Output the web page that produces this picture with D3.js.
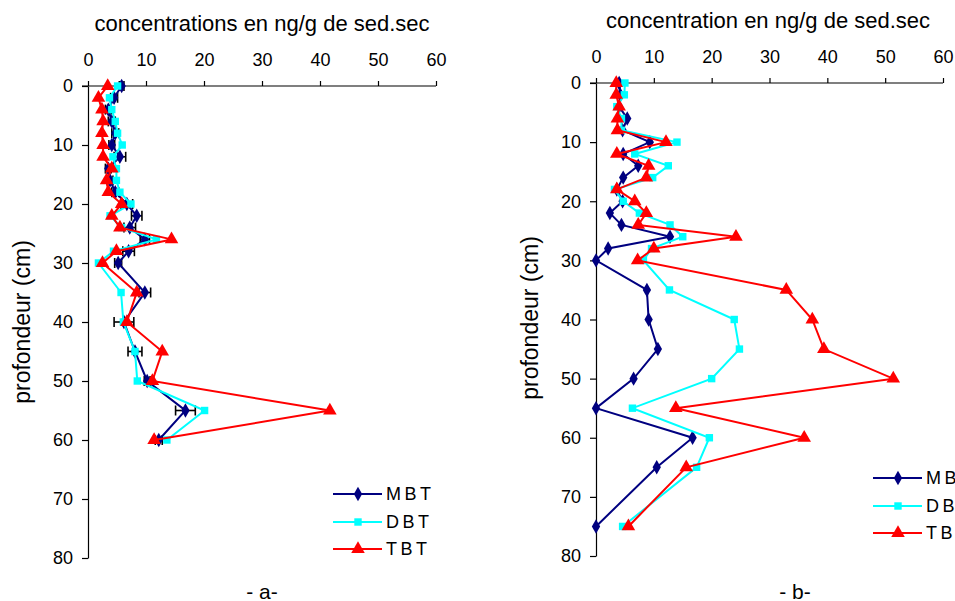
<!DOCTYPE html>
<html><head><meta charset="utf-8">
<script src="https://cdn.jsdelivr.net/npm/d3@7"></script>
<style>
body{margin:0;background:#fff;overflow:hidden}
text{font-family:"Liberation Sans",Arial,sans-serif;fill:#000}
</style></head><body>
<svg id="chart" width="955" height="601"></svg>
<script>
// ---- data ----
const seriesNames = ["MBT", "DBT", "TBT"];
const xTicks = [0, 10, 20, 30, 40, 50, 60];
const yTicks = [0, 10, 20, 30, 40, 50, 60, 70, 80];

const depthsA = [0,2,4,6,8,10,12,14,16,18,20,22,24,26,28,30,35,40,45,50,55,60];
const mbtA = [5.8,4.5,3.5,4.1,4.7,4.1,5.5,3.5,3.8,4.7,6.7,8.4,7.2,9.8,7.0,5.2,9.8,6.2,8.1,10.2,16.8,12.2];
const dbtA = [5.1,3.7,4.1,4.7,5.1,5.9,4.3,4.9,4.9,5.5,7.4,3.8,5.8,11.8,4.4,1.8,5.7,6.1,8.1,8.5,20.1,13.6];
const tbtA = [3.4,1.8,2.4,2.6,2.4,2.6,2.6,4.1,3.2,3.5,5.8,4.1,5.5,14.4,4.9,2.5,8.4,6.7,12.8,11.1,41.7,11.4];
const errA = [0.4,0.6,0.5,0.6,0.6,0.5,1.0,0.5,0.5,0.6,1.0,0.9,1.0,0.8,1.0,0.6,1.0,1.7,1.2,0.5,1.7,0.6];

const depthsB = [0,2,4,6,8,10,12,14,16,18,20,22,24,26,28,30,35,40,45,50,55,60,65,75];
const mbtB = [4.0,4.2,4.0,5.4,4.6,9.3,4.7,7.3,4.7,3.6,4.6,2.4,4.4,12.8,2.1,0,8.8,9.1,10.7,6.5,0,16.7,10.5,0];
const dbtB = [5.0,4.9,3.6,4.4,4.4,14.0,6.7,12.5,9.8,3.2,4.7,7.5,12.8,15.0,9.6,8.2,12.7,23.9,24.8,20.0,6.3,19.6,17.4,4.6];
const tbtB = [3.5,3.5,4.0,3.7,3.7,12.1,3.6,9.1,8.7,3.6,6.7,8.7,7.3,24.2,10.0,7.2,32.9,37.4,39.4,51.4,13.8,36.0,15.6,5.6];

const colors = {MBT:"#000080", DBT:"#00FFFF", TBT:"#FF0000"};
const symbols = {MBT:d3.symbolDiamond, DBT:d3.symbolSquare, TBT:d3.symbolTriangle};
const symSize = {MBT:60, DBT:55, TBT:80};

const svg = d3.select("#chart");

function panel(cfg){
  const g = svg.append("g");
  const x = d3.scaleLinear().domain([0,60]).range([cfg.x0, cfg.x1]);
  const y = d3.scaleLinear().domain([0,80]).range([cfg.y0, cfg.y1]);

  const ax = g.append("g").attr("transform",`translate(0,${cfg.y0})`)
    .call(d3.axisTop(x).tickValues(xTicks).tickSize(5).tickPadding(15).tickSizeOuter(0));
  const ay = g.append("g").attr("transform",`translate(${cfg.x0},0)`)
    .call(d3.axisLeft(y).tickValues(yTicks).tickSize(6).tickPadding(9).tickSizeOuter(0));
  [ax, ay].forEach(a=>{
    a.selectAll("text").style("font-size","18px").attr("font-family","Liberation Sans, Arial, sans-serif");
    a.selectAll("line,path").attr("stroke","#000").attr("stroke-width",1.2);
  });
  ax.select(".domain").attr("d",`M${cfg.x0-6},0H${cfg.x1}`);

  g.append("text").attr("x",cfg.titleX).attr("y",cfg.titleY).attr("text-anchor","middle")
    .style("font-size","22px").text(cfg.title);
  g.append("text").attr("transform",`translate(${cfg.ylabX},${cfg.ylabY}) rotate(-90)`)
    .attr("text-anchor","middle").attr("dominant-baseline","central")
    .style("font-size","23px").text("profondeur (cm)");
  g.append("text").attr("x",cfg.capX).attr("y",591).attr("text-anchor","middle")
    .attr("dominant-baseline","central").style("font-size","21px").text(cfg.caption);

  const line = d3.line().x(d=>x(d.v)).y(d=>y(d.d));
  cfg.series.forEach((vals,i)=>{
    const name = seriesNames[i];
    const pts = vals.map((v,j)=>({v, d:cfg.depths[j]}));
    if(name==="MBT" && cfg.err){
      const eg = g.append("g").attr("stroke","#000").attr("stroke-width",1.6);
      pts.forEach((p,j)=>{
        const e = cfg.err[j];
        const xl = x(p.v-e), xr = x(p.v+e), yy = y(p.d);
        eg.append("line").attr("x1",xl).attr("x2",xr).attr("y1",yy).attr("y2",yy);
        eg.append("line").attr("x1",xl).attr("x2",xl).attr("y1",yy-5).attr("y2",yy+5);
        eg.append("line").attr("x1",xr).attr("x2",xr).attr("y1",yy-5).attr("y2",yy+5);
      });
    }
    g.append("path").datum(pts).attr("d",line).attr("fill","none")
      .attr("stroke",colors[name]).attr("stroke-width",2);
    g.selectAll(null).data(pts).enter().append("path")
      .attr("transform",d=>`translate(${x(d.v)},${y(d.d)})`)
      .attr("d",d3.symbol(symbols[name], symSize[name])).attr("fill",colors[name]);
  });

  seriesNames.forEach((name,i)=>{
    const ly = cfg.legY[i];
    g.append("line").attr("x1",cfg.legX).attr("x2",cfg.legX+49).attr("y1",ly).attr("y2",ly)
      .attr("stroke",colors[name]).attr("stroke-width",2);
    g.append("path").attr("transform",`translate(${cfg.legX+25},${ly})`)
      .attr("d",d3.symbol(symbols[name], symSize[name])).attr("fill",colors[name]);
    g.append("text").attr("x",cfg.legX+53).attr("y",ly).attr("dominant-baseline","central")
      .style("font-size","18px").style("letter-spacing","3.5px").text(name);
  });
}

panel({x0:88,x1:436,y0:86,y1:558,depths:depthsA,series:[mbtA,dbtA,tbtA],err:errA,
  title:"concentrations en ng/g de sed.sec",titleX:262,titleY:31,
  ylabX:22,ylabY:322,capX:262,caption:"- a-",legX:333,legY:[494,522,549]});
panel({x0:596,x1:943,y0:83,y1:556,depths:depthsB,series:[mbtB,dbtB,tbtB],err:null,
  title:"concentration en ng/g de sed.sec",titleX:768,titleY:28,
  ylabX:530,ylabY:318,capX:795,caption:"- b-",legX:873,legY:[478,506,533]});
</script></body></html>
